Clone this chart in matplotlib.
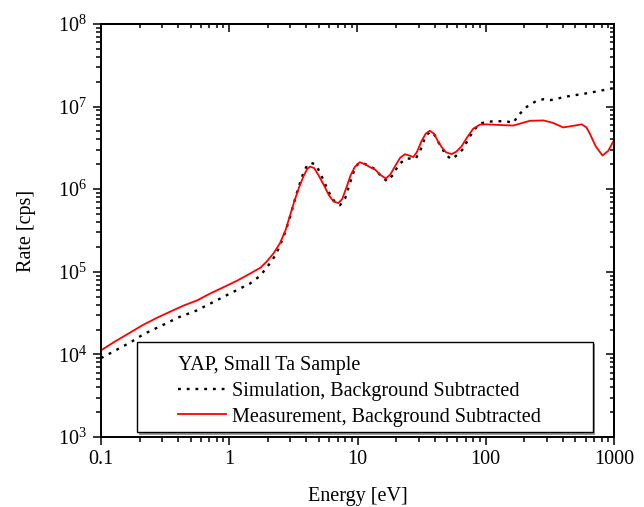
import numpy as np
import matplotlib
matplotlib.use('Agg')
import matplotlib.pyplot as plt
from matplotlib.patches import Rectangle
from matplotlib.ticker import LogLocator, NullFormatter, FixedLocator, FixedFormatter

plt.rcParams['font.family'] = ['Liberation Serif', 'DejaVu Serif']
plt.rcParams['mathtext.fontset'] = 'custom'
plt.rcParams['mathtext.rm'] = 'Liberation Serif'
plt.rcParams['font.size'] = 14.5

meas_e = [0.1, 0.13, 0.17, 0.21, 0.27, 0.34, 0.44, 0.56, 0.7, 0.9, 1.15, 1.45,
          1.75, 1.95, 2.2, 2.48, 2.75, 3.0, 3.25, 3.5, 3.8, 4.05, 4.26, 4.6,
          5.0, 5.5, 6.0, 6.5, 7.08, 7.6, 8.2, 8.8, 9.5, 10.4, 11.5, 12.5, 13.7,
          15.0, 16.6, 18.0, 20.0, 21.5, 23.4, 25.5, 27.2, 29.0, 31.5, 34.0,
          36.6, 39.5, 42.0, 45.2, 49.0, 54.1, 59.0, 64.7, 72.0, 79.8, 90, 100,
          125, 164, 190, 221, 281, 330, 402, 480, 559, 610, 648, 720, 813, 900,
          984, 1000]
meas_rate = [1.12e4, 1.45e4, 1.85e4, 2.25e4, 2.75e4, 3.25e4, 3.9e4, 4.5e4,
             5.4e4, 6.5e4, 7.8e4, 9.5e4, 1.12e5, 1.32e5, 1.65e5, 2.2e5, 3.2e5,
             5.0e5, 7.5e5, 1.05e6, 1.45e6, 1.75e6, 1.88e6, 1.8e6, 1.45e6,
             1.1e6, 8.4e5, 7.1e5, 6.8e5, 7.6e5, 1.05e6, 1.45e6, 1.85e6, 2.12e6,
             2.0e6, 1.85e6, 1.73e6, 1.5e6, 1.35e6, 1.5e6, 2.0e6, 2.4e6, 2.65e6,
             2.55e6, 2.45e6, 2.8e6, 3.8e6, 4.7e6, 5.1e6, 4.7e6, 3.9e6, 3.25e6,
             2.8e6, 2.66e6, 2.85e6, 3.3e6, 4.3e6, 5.4e6, 6.05e6, 6.1e6, 6.0e6,
             5.9e6, 6.3e6, 6.73e6, 6.8e6, 6.4e6, 5.6e6, 5.85e6, 6.1e6, 5.6e6,
             4.7e6, 3.3e6, 2.56e6, 2.9e6, 3.75e6, 3.9e6]

# simulation, background subtracted
sim_e = [0.1, 0.13, 0.17, 0.214, 0.3, 0.4, 0.557, 0.75, 1.0, 1.45, 1.75, 2.07,
         2.3, 2.49, 2.75, 3.0, 3.25, 3.5, 3.8, 4.05, 4.35, 4.7, 5.1, 5.6, 6.2,
         6.8, 7.3, 8.0, 8.6, 9.3, 10.0, 10.8, 12.0, 13.7, 15.2, 17.0, 19.0,
         21.0, 24.0, 28.5, 31.0, 34.0, 37.0, 40.0, 44.0, 49.0, 54.0, 60.0,
         67.0, 74.0, 82.0, 90, 103, 120, 141, 164, 180, 210, 241, 281, 322,
         422, 648, 1000]
sim_rate = [9.0e3, 1.12e4, 1.4e4, 1.75e4, 2.25e4, 2.8e4, 3.4e4, 4.3e4, 5.4e4,
            7.2e4, 9.0e4, 1.26e5, 1.6e5, 2.1e5, 3.1e5, 4.8e5, 7.5e5, 1.1e6,
            1.6e6, 1.95e6, 2.08e6, 2.0e6, 1.6e6, 1.15e6, 8.2e5, 6.7e5, 6.4e5,
            7.7e5, 1.1e6, 1.6e6, 2.0e6, 2.1e6, 1.95e6, 1.75e6, 1.45e6, 1.25e6,
            1.5e6, 2.0e6, 2.35e6, 2.35e6, 3.0e6, 4.4e6, 5.0e6, 4.5e6, 3.4e6,
            2.6e6, 2.3e6, 2.6e6, 3.1e6, 4.2e6, 5.3e6, 6.2e6, 6.6e6, 6.6e6,
            6.7e6, 6.35e6, 7.9e6, 1.0e7, 1.14e7, 1.23e7, 1.2e7, 1.32e7, 1.47e7,
            1.68e7]

x_ticks = [0.1, 1, 10, 100, 1000]
x_labels = ['0.1', '1', '10', '100', '1000']

fig = plt.figure(figsize=(6.44, 5.07), dpi=100)
ax = fig.add_axes([101/644, 1 - 437/507, 513/644, 413/507])

ax.plot(sim_e, sim_rate, color='black', lw=1.7, linestyle=(0, (1.2, 2.5)),
        label='Simulation, Background Subtracted')
ax.plot(meas_e, meas_rate, color='red', lw=1.3,
        label='Measurement, Background Subtracted')

ax.set_xscale('log')
ax.set_yscale('log')
ax.set_xlim(0.1, 1000)
ax.set_ylim(1e3, 1e8)

minor_subs = np.arange(2, 10)
ax.xaxis.set_major_locator(FixedLocator(x_ticks))
ax.xaxis.set_major_formatter(FixedFormatter(x_labels))
ax.xaxis.set_minor_locator(LogLocator(base=10, subs=minor_subs))
ax.xaxis.set_minor_formatter(NullFormatter())
ax.yaxis.set_major_locator(LogLocator(base=10, numticks=10))
ax.yaxis.set_minor_locator(LogLocator(base=10, subs=minor_subs, numticks=10))
ax.yaxis.set_minor_formatter(NullFormatter())

# bottom/left ticks point outward
ax.tick_params(which='both', direction='out', width=1.1)
ax.tick_params(which='major', length=6, labelsize=14.5)
ax.tick_params(axis='x', which='major', pad=3)
ax.tick_params(axis='y', which='major', pad=4)
ax.tick_params(which='minor', length=3.5)
for s in ax.spines.values():
    s.set_linewidth(1.4)

# top/right ticks point inward
top = ax.secondary_xaxis('top')
top.xaxis.set_major_locator(FixedLocator(x_ticks))
top.xaxis.set_minor_locator(LogLocator(base=10, subs=minor_subs))
top.xaxis.set_major_formatter(NullFormatter())
top.xaxis.set_minor_formatter(NullFormatter())
right = ax.secondary_yaxis('right')
right.yaxis.set_major_locator(LogLocator(base=10, numticks=10))
right.yaxis.set_minor_locator(LogLocator(base=10, subs=minor_subs, numticks=10))
right.yaxis.set_major_formatter(NullFormatter())
right.yaxis.set_minor_formatter(NullFormatter())
for sec in (top, right):
    sec.tick_params(which='both', direction='in', width=1.1)
    sec.tick_params(which='major', length=6)
    sec.tick_params(which='minor', length=3)
    for s in sec.spines.values():
        s.set_linewidth(1.4)

ax.set_xlabel('Energy [eV]', fontsize=14.5, labelpad=13)
ax.set_ylabel('Rate [cps]', fontsize=14.5, labelpad=16)

# legend frame with a light shadow
ax.add_patch(Rectangle((0.0736, 0.006), 0.889, 0.218, transform=ax.transAxes,
                       facecolor='#999999', edgecolor='none', zorder=4))
ax.add_patch(Rectangle((0.0696, 0.0114), 0.889, 0.218, transform=ax.transAxes,
                       facecolor='white', edgecolor='black', lw=1.0, zorder=5))
leg = ax.legend(loc='upper left', bbox_to_anchor=(0.150, 0.195),
                frameon=False, borderpad=0, borderaxespad=0,
                handlelength=2.4, handletextpad=0.3, labelspacing=0.32,
                title='YAP, Small Ta Sample', alignment='left',
                fontsize=14.5, title_fontsize=14.5)
leg.set_zorder(6)

fig.savefig('out.png', dpi=100)
